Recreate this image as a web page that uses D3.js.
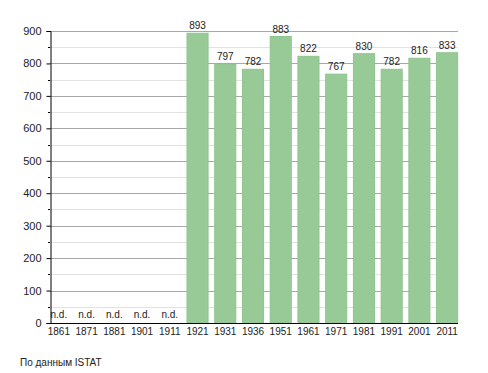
<!DOCTYPE html>
<html>
<head>
<meta charset="utf-8">
<script src="https://cdn.jsdelivr.net/npm/d3@7"></script>
<style>
  body { margin: 0; background: #fff; }
  text { font-family: "Liberation Sans", Arial, sans-serif; }
</style>
</head>
<body>
<div id="chart"></div>
<script>
var years = ["1861", "1871", "1881", "1901", "1911", "1921", "1931", "1936", "1951", "1961", "1971", "1981", "1991", "2001", "2011"];
var population = [null, null, null, null, null, 893, 797, 782, 883, 822, 767, 830, 782, 816, 833];
var yTicks = [0, 100, 200, 300, 400, 500, 600, 700, 800, 900];
var sourceNote = "По данным  ISTAT";

var svgWidth = 488;
var svgHeight = 373;

var svg = d3.select("#chart")
  .append("svg")
  .attr("width", svgWidth)
  .attr("height", svgHeight);

var x = d3.scaleBand()
  .domain(years)
  .range([45, 461])
  .paddingInner(0.24)
  .paddingOuter(0.12);

var y = d3.scaleLinear()
  .domain([0, 900])
  .range([323, 31]);

var left = 50, right = 458;

// minor grid every 50
var minor = d3.range(50, 900, 100);
svg.append("g").selectAll("line")
  .data(minor)
  .enter()
  .append("line")
  .attr("x1", left)
  .attr("x2", right)
  .attr("y1", d => Math.round(y(d)) + 0.5)
  .attr("y2", d => Math.round(y(d)) + 0.5)
  .attr("stroke", "#e2e2e2");

svg.append("g").selectAll("line")
  .data(yTicks.slice(1))
  .enter()
  .append("line")
  .attr("x1", left)
  .attr("x2", right)
  .attr("y1", d => Math.round(y(d)) + 0.5)
  .attr("y2", d => Math.round(y(d)) + 0.5)
  .attr("stroke", "#a8a8a8");

// bars
svg.append("g").selectAll("rect")
  .data(years.map((yr, i) => ({ year: yr, value: population[i] })).filter(d => d.value != null))
  .enter()
  .append("rect")
  .attr("x", d => x(d.year))
  .attr("y", d => y(d.value))
  .attr("width", x.bandwidth())
  .attr("height", d => y(0) - y(d.value))
  .attr("fill", "#98ca98")
  .attr("stroke", "#8fc48f")
  .attr("stroke-width", 1);

// value labels
svg.append("g").selectAll("text")
  .data(years.map((yr, i) => ({ year: yr, value: population[i] })))
  .enter()
  .append("text")
  .attr("x", d => x(d.year) + x.bandwidth() / 2)
  .attr("y", d => d.value == null ? 318 : y(d.value) - 4)
  .attr("text-anchor", "middle")
  .attr("font-size", "10px")
  .attr("fill", "#222")
  .text(d => d.value == null ? "n.d." : d.value);

// y axis
var leftAxis = d3.axisLeft(y)
  .tickValues(yTicks)
  .tickSize(4)
  .tickFormat(d3.format("d"));

var yAxisG = svg.append("g")
  .attr("transform", `translate(${left + 0.5}, 0)`)
  .call(leftAxis);
yAxisG.select(".domain").attr("stroke", "#000");
yAxisG.selectAll("text").attr("font-size", "11px").attr("fill", "#222").attr("x", -9);

svg.append("g").selectAll("line")
  .data(minor)
  .enter()
  .append("line")
  .attr("x1", left - 2)
  .attr("x2", left)
  .attr("y1", d => Math.round(y(d)) + 0.5)
  .attr("y2", d => Math.round(y(d)) + 0.5)
  .attr("stroke", "#000");

// x axis
svg.append("line")
  .attr("x1", left)
  .attr("x2", right)
  .attr("y1", Math.round(y(0)) + 0.5)
  .attr("y2", Math.round(y(0)) + 0.5)
  .attr("stroke", "#000");

svg.append("g").selectAll("text")
  .data(years)
  .enter()
  .append("text")
  .attr("x", d => x(d) + x.bandwidth() / 2)
  .attr("y", 335)
  .attr("text-anchor", "middle")
  .attr("font-size", "10px")
  .attr("fill", "#222")
  .text(d => d);

svg.append("text")
  .attr("x", 20)
  .attr("y", 366)
  .attr("font-size", "10px")
  .attr("fill", "#222")
  .text(sourceNote);
</script>
</body>
</html>
